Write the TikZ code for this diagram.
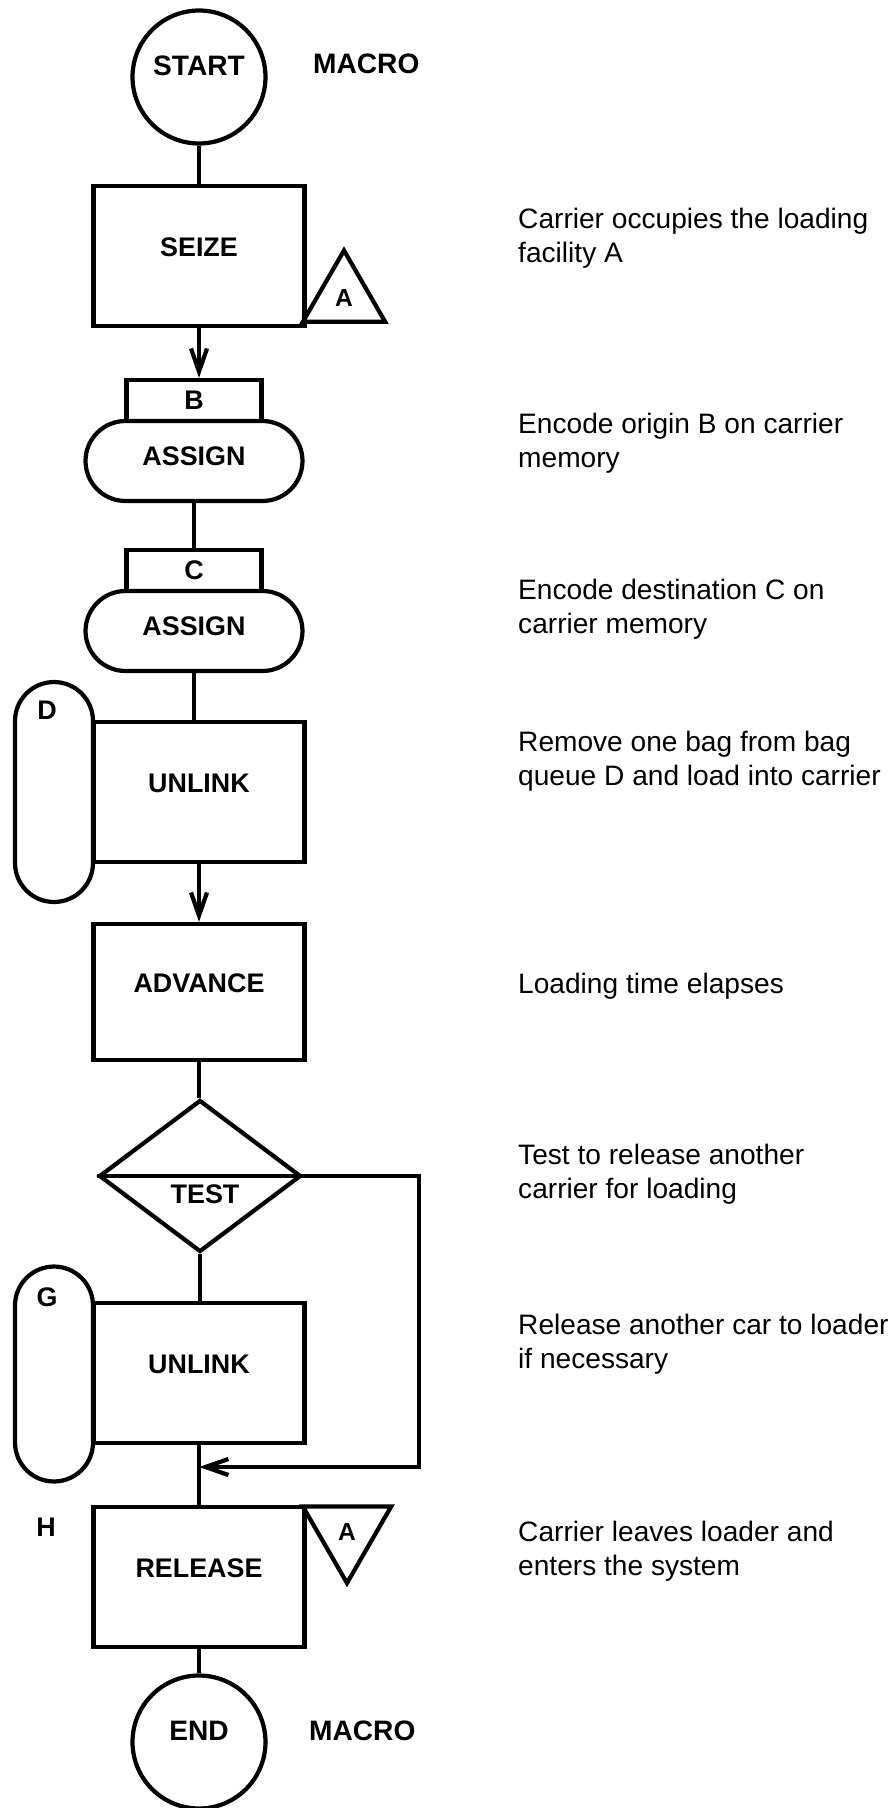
\documentclass[tikz,border=0pt]{standalone}
\usepackage{fontspec}
\setmainfont{Liberation Sans}
\usetikzlibrary{positioning, arrows.meta, shapes.geometric}

\tikzset{
  lbl/.style={font=\fontsize{15.3}{18}\selectfont\bfseries},
  blk/.style={draw, line width=2.4pt, minimum width=4.22cm, minimum height=2.8cm, inner sep=0pt, text depth=0.36cm, lbl},
  term/.style={draw, circle, line width=2.4pt, minimum size=2.66cm, inner sep=0pt, text depth=0.46cm, font=\fontsize{16}{18.8}\selectfont\bfseries},
  pill/.style={draw, line width=2.4pt, rounded corners=0.8cm, minimum width=4.34cm, minimum height=1.6cm, inner sep=0pt, text depth=0.2cm, lbl},
  tagbox/.style={draw, line width=2.4pt, minimum width=2.7cm, minimum height=0.82cm, inner sep=0pt, lbl},
  queue/.style={draw, line width=2.4pt, rounded corners=0.78cm, minimum width=1.56cm, inner sep=0pt},
  facil/.style={draw, line width=2.4pt, regular polygon, regular polygon sides=3, inner sep=0pt, font=\fontsize{14}{16}\selectfont\bfseries},
  note/.style={anchor=base west, align=left, font=\fontsize{16}{18.8}\selectfont},
  link/.style={line width=2.4pt},
  flow/.style={line width=2.4pt, -{Straight Barb[length=0.46cm,width=0.32cm]}}
}

\begin{document}
\begin{tikzpicture}[x=0.02cm, y=-0.02cm]
    \useasboundingbox (0,0) rectangle (891,1808);
    % main column
    \node[term] (start) at (199,77) {START};
    \node[lbl, font=\fontsize{16}{18.8}\selectfont\bfseries, anchor=west] (mtop) at (307,64) {MACRO};
    \node[blk] (seize) at (199,256) {SEIZE};
    \node[facil, minimum size=1.9cm] (facA) at (344,298) {A};
    \node[pill] (asgB) at (194,461) {ASSIGN};
    \node[tagbox, above=-2.4pt of asgB] (tagB) {B};
    \node[pill] (asgC) at (194,631) {ASSIGN};
    \node[tagbox, above=-2.4pt of asgC] (tagC) {C};
    \node[blk] (unl1) at (199,792) {UNLINK};
    \node[queue, minimum height=4.4cm] (qD) at (54,792) {};
    \node[lbl] (labD) at (47,710) {D};
    \node[blk, minimum height=2.72cm] (adv) at (199,992) {ADVANCE};
    \node[draw, diamond, line width=2.4pt, minimum width=4.04cm, minimum height=3.04cm, inner sep=0pt] (test) at (200,1176) {};
    \draw[link] (test.west) -- (test.east);
    \node[lbl] (labT) at (205,1194) {TEST};
    \node[blk] (unl2) at (199,1373) {UNLINK};
    \node[queue, minimum height=4.3cm] (qG) at (54,1374) {};
    \node[lbl] (labG) at (47,1297) {G};
    \node[blk] (release) at (199,1577) {RELEASE};
    \node[lbl] (labH) at (46,1527) {H};
    \node[facil, shape border rotate=180, minimum size=2.04cm] (facA2) at (347,1532) {A};
    \node[term] (end) at (199,1742) {END};
    \node[lbl, font=\fontsize{16}{18.8}\selectfont\bfseries, anchor=west] (mbot) at (303,1731) {MACRO};

    % connectors
    \foreach \a/\b in {start/seize, asgB/tagC, asgC/unl1, adv/test, test/unl2, unl2/release, release/end}
        \draw[link] (\a.south) -- (\a.south |- \b.north);
    \draw[flow] (seize.south) -- (seize.south |- tagB.north);
    \draw[flow] (unl1.south) -- (adv.north);
    \coordinate (turn) at (419,1467);
    \draw[flow] (test.east) -| (turn) -- (turn -| unl2.south);

    % notes
    \node[note] (n1) at (512,262) {Carrier occupies the loading\\facility A};
    \node[note] (n2) at (512,467) {Encode origin B on carrier\\memory};
    \node[note] (n3) at (512,633) {Encode destination C on\\carrier memory};
    \node[note] (n4) at (512,785) {Remove one bag from bag\\queue D and load into carrier};
    \node[note] (n5) at (512,993) {Loading time elapses};
    \node[note] (n6) at (512,1198) {Test to release another\\carrier for loading};
    \node[note] (n7) at (512,1368) {Release another car to loader\\if necessary};
    \node[note] (n8) at (512,1575) {Carrier leaves loader and\\enters the system};
\end{tikzpicture}
\end{document}
